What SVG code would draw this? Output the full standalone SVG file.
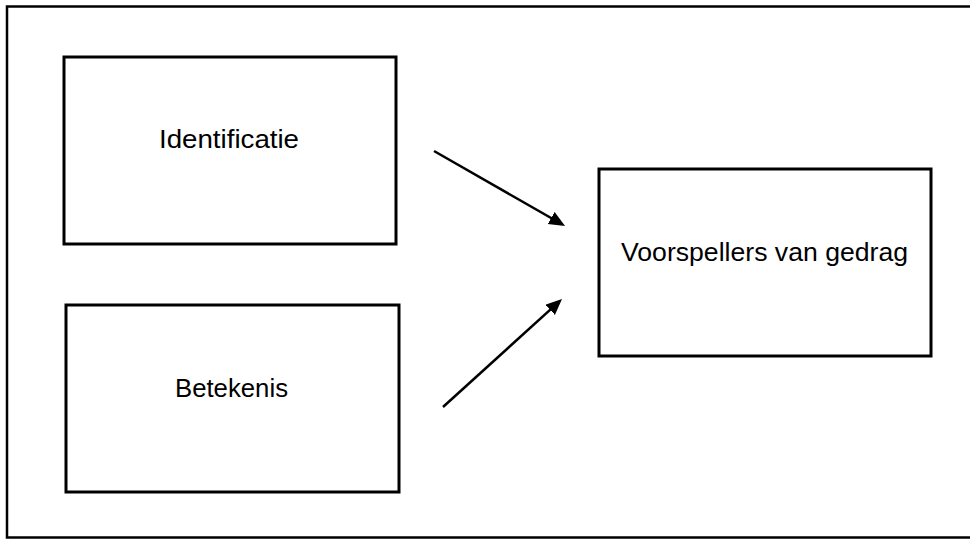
<svg xmlns="http://www.w3.org/2000/svg" width="970" height="539" viewBox="0 0 970 539">
<style>
.box{fill:#fff;stroke:#000;stroke-width:3}
.frame{fill:#fff;stroke:#000;stroke-width:2.5}
.lbl{font-family:"Liberation Sans",Arial,sans-serif;font-size:25px;fill:#000;text-anchor:middle}
.conn{stroke:#000;stroke-width:2.5;fill:none;marker-end:url(#ah)}
</style>
<defs>
<marker id="ah" markerUnits="userSpaceOnUse" markerWidth="17" markerHeight="15" refX="8" refY="7" orient="auto" viewBox="0 0 17 15">
<path d="M0,0 L16,7 L0,14 Z" fill="#000"/>
</marker>
</defs>
<rect class="frame" x="7" y="6.5" width="966" height="531"/>
<g id="node-identificatie">
<rect class="box" x="64" y="57" width="332" height="187"/>
<text class="lbl" x="229" y="148" textLength="140" lengthAdjust="spacingAndGlyphs">Identificatie</text>
</g>
<g id="node-betekenis">
<rect class="box" x="66" y="305" width="333" height="187"/>
<text class="lbl" x="231.5" y="397" textLength="113" lengthAdjust="spacingAndGlyphs">Betekenis</text>
</g>
<g id="node-voorspellers">
<rect class="box" x="599" y="169" width="332" height="187"/>
<text class="lbl" x="764.5" y="261" textLength="287" lengthAdjust="spacingAndGlyphs">Voorspellers van gedrag</text>
</g>
<g id="connectors">
<line class="conn" x1="434" y1="151" x2="558.1" y2="222"/>
<line class="conn" x1="443" y1="407" x2="556.1" y2="304.4"/>
</g>
</svg>
